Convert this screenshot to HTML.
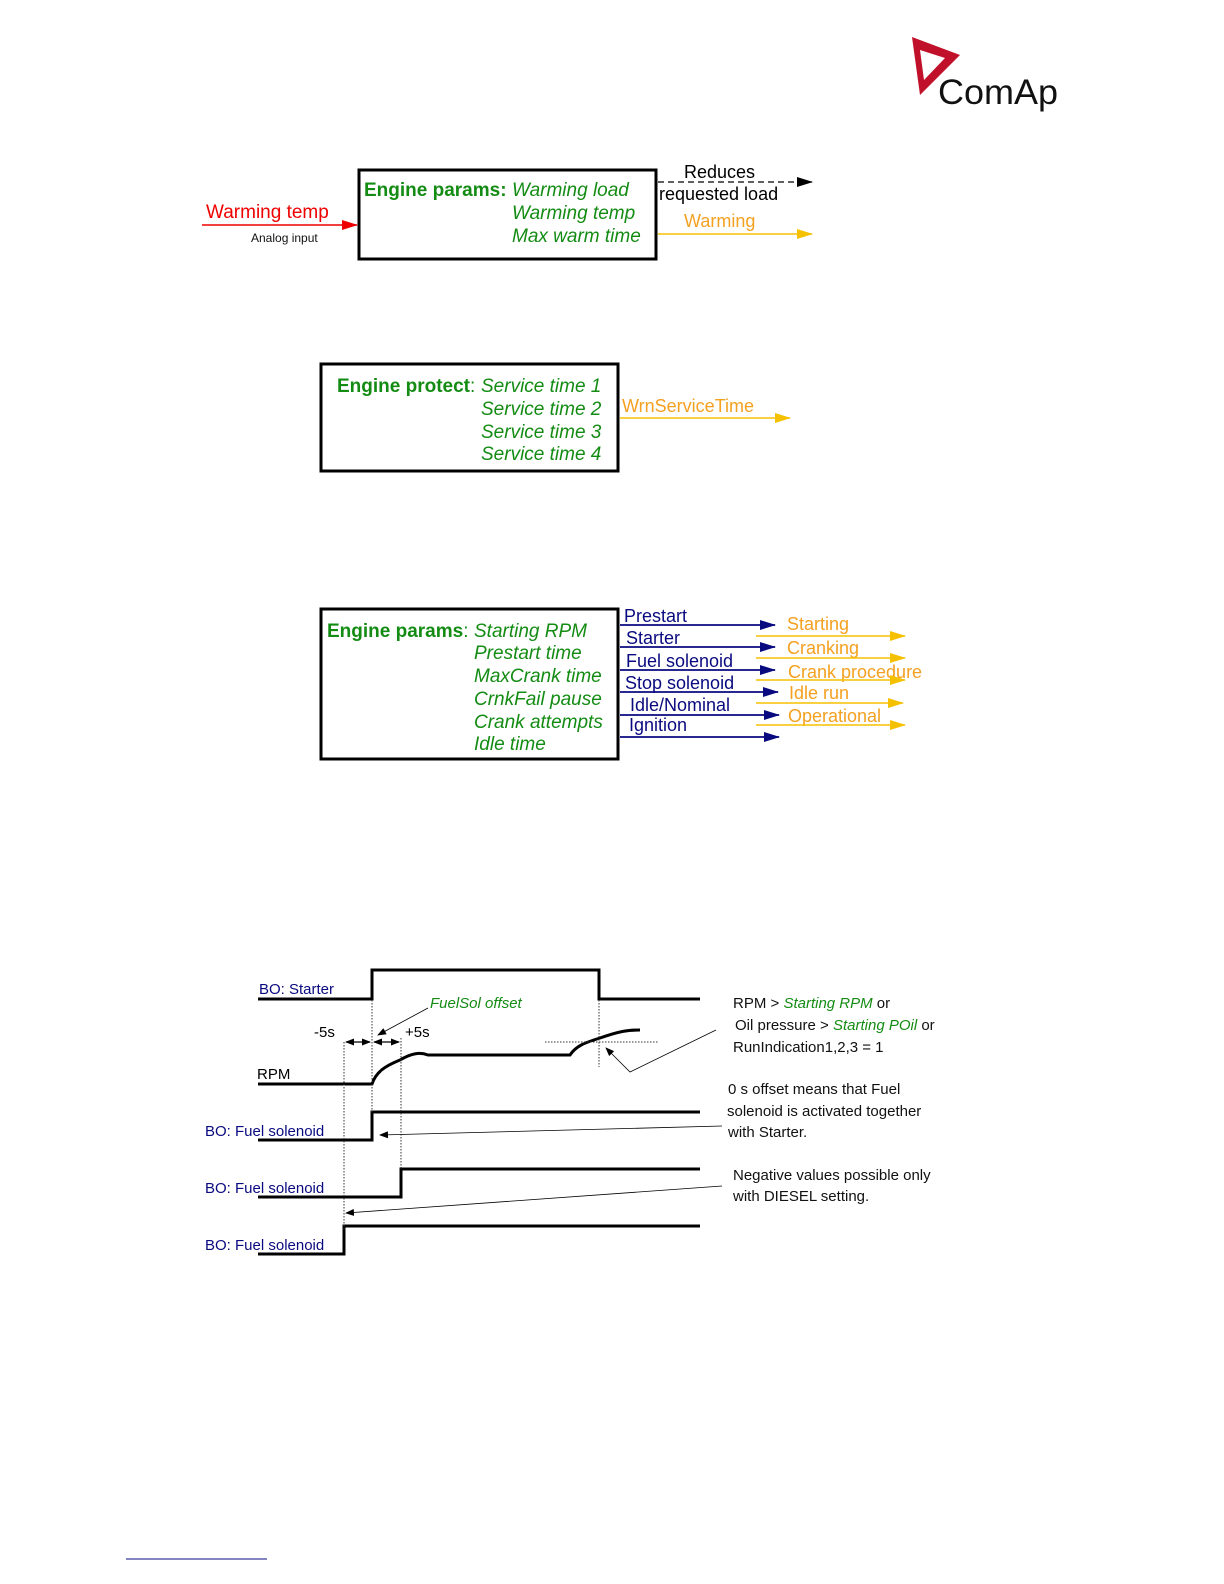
<!DOCTYPE html>
<html><head><meta charset="utf-8"><style>
html,body{margin:0;padding:0;background:#fff;width:1224px;height:1584px;overflow:hidden}
svg{position:absolute;left:0;top:0}
text{font-family:"Liberation Sans",Arial,sans-serif}
.g{fill:#148c14}.n{fill:#0a0a80}.o{fill:#f4a020}
</style></head><body>
<svg width="1224" height="1584" viewBox="0 0 1224 1584" xmlns="http://www.w3.org/2000/svg">
<defs>
<marker id="an" markerWidth="16" markerHeight="10" refX="15" refY="5" orient="auto" markerUnits="userSpaceOnUse"><path d="M0,0L16,5L0,10z" fill="#0a0a80"/></marker>
<marker id="ay" markerWidth="16" markerHeight="10" refX="15" refY="5" orient="auto" markerUnits="userSpaceOnUse"><path d="M0,0L16,5L0,10z" fill="#f5c000"/></marker>
<marker id="ar" markerWidth="16" markerHeight="10" refX="15" refY="5" orient="auto" markerUnits="userSpaceOnUse"><path d="M0,0L16,5L0,10z" fill="#e00"/></marker>
<marker id="ak" markerWidth="16" markerHeight="10" refX="15" refY="5" orient="auto" markerUnits="userSpaceOnUse"><path d="M0,0L16,5L0,10z" fill="#000"/></marker>
<marker id="as" markerWidth="9" markerHeight="7" refX="8" refY="3.5" orient="auto-start-reverse" markerUnits="userSpaceOnUse"><path d="M0,0L9,3.5L0,7z" fill="#000"/></marker>
</defs>
<!-- logo -->
<path d="M912,37 L960,55 L920,95 Z" fill="#c0102a"/>
<path d="M920,50 L945,58 L924,80 Z" fill="#fff"/>
<text x="938" y="104" font-size="35" fill="#111" textLength="120" lengthAdjust="spacingAndGlyphs">ComAp</text>

<!-- block 1 -->
<rect x="359" y="170" width="297" height="89" fill="none" stroke="#000" stroke-width="3"/>
<text x="364" y="196" font-size="19" class="g" font-weight="bold">Engine params:</text>
<text font-size="19" class="g" font-style="italic"><tspan x="512" y="196">Warming load</tspan><tspan x="512" y="219">Warming temp</tspan><tspan x="512" y="242">Max warm time</tspan></text>
<text x="206" y="218" font-size="19" fill="#e00">Warming temp</text>
<line x1="202" y1="225" x2="357" y2="225" stroke="#e00" stroke-width="1.5" marker-end="url(#ar)"/>
<text x="251" y="242" font-size="12" fill="#111">Analog input</text>
<text x="684" y="178" font-size="18" fill="#000">Reduces</text>
<text x="659" y="200" font-size="18" fill="#000">requested load</text>
<line x1="658" y1="182" x2="812" y2="182" stroke="#000" stroke-width="1.2" stroke-dasharray="6,4" marker-end="url(#ak)"/>
<text x="684" y="227" font-size="18" class="o">Warming</text>
<line x1="658" y1="234" x2="812" y2="234" stroke="#f5c000" stroke-width="1.5" marker-end="url(#ay)"/>

<!-- block 2 -->
<rect x="321" y="364" width="297" height="107" fill="none" stroke="#000" stroke-width="3"/>
<text x="337" y="392" font-size="19" class="g" font-weight="bold">Engine protect<tspan font-weight="normal">:</tspan></text>
<text font-size="19" class="g" font-style="italic"><tspan x="481" y="392">Service time 1</tspan><tspan x="481" y="415">Service time 2</tspan><tspan x="481" y="438">Service time 3</tspan><tspan x="481" y="460">Service time 4</tspan></text>
<text x="622" y="412" font-size="18" class="o">WrnServiceTime</text>
<line x1="620" y1="418" x2="790" y2="418" stroke="#f5c000" stroke-width="1.5" marker-end="url(#ay)"/>

<!-- block 3 -->
<rect x="321" y="609" width="297" height="150" fill="none" stroke="#000" stroke-width="3"/>
<text x="327" y="637" font-size="19" class="g" font-weight="bold">Engine params<tspan font-weight="normal">:</tspan></text>
<text font-size="19" class="g" font-style="italic"><tspan x="474" y="637">Starting RPM</tspan><tspan x="474" y="659">Prestart time</tspan><tspan x="474" y="682">MaxCrank time</tspan><tspan x="474" y="705">CrnkFail pause</tspan><tspan x="474" y="728">Crank attempts</tspan><tspan x="474" y="750">Idle time</tspan></text>
<g font-size="18" class="n">
<text x="624" y="622">Prestart</text><text x="626" y="644">Starter</text><text x="626" y="667">Fuel solenoid</text><text x="625" y="689">Stop solenoid</text><text x="630" y="711">Idle/Nominal</text><text x="629" y="731">Ignition</text>
</g>
<g stroke="#0a0a80" stroke-width="1.8">
<line x1="620" y1="625" x2="775" y2="625" marker-end="url(#an)"/>
<line x1="620" y1="647" x2="775" y2="647" marker-end="url(#an)"/>
<line x1="620" y1="670" x2="775" y2="670" marker-end="url(#an)"/>
<line x1="620" y1="692" x2="778" y2="692" marker-end="url(#an)"/>
<line x1="620" y1="715" x2="779" y2="715" marker-end="url(#an)"/>
<line x1="620" y1="737" x2="779" y2="737" marker-end="url(#an)"/>
</g>
<g font-size="18" class="o">
<text x="787" y="630">Starting</text><text x="787" y="654">Cranking</text><text x="788" y="678">Crank procedure</text><text x="789" y="699">Idle run</text><text x="788" y="722">Operational</text>
</g>
<g stroke="#f5c000" stroke-width="1.5">
<line x1="756" y1="636" x2="905" y2="636" marker-end="url(#ay)"/>
<line x1="756" y1="658" x2="905" y2="658" marker-end="url(#ay)"/>
<line x1="756" y1="680" x2="905" y2="680" marker-end="url(#ay)"/>
<line x1="756" y1="703" x2="903" y2="703" marker-end="url(#ay)"/>
<line x1="756" y1="725" x2="905" y2="725" marker-end="url(#ay)"/>
</g>

<!-- timing -->
<g fill="none" stroke="#000" stroke-width="3">
<polyline points="258,999 372,999 372,970 599,970 599,999 700,999"/>
<path d="M258,1084 L372,1084 C376,1072 385,1066 400,1060 C412,1053 420,1052 428,1055 L570,1055 C576,1046 584,1043 600,1038 C620,1031 628,1030 640,1030"/>
<polyline points="258,1140 372,1140 372,1112 700,1112"/>
<polyline points="258,1197 401,1197 401,1169 700,1169"/>
<polyline points="258,1254 344,1254 344,1226 700,1226"/>
</g>
<g stroke="#333" stroke-width="1" stroke-dasharray="1.5,1.5" fill="none">
<line x1="344" y1="1042" x2="344" y2="1230"/>
<line x1="372" y1="1000" x2="372" y2="1112"/>
<line x1="401" y1="1038" x2="401" y2="1170"/>
<line x1="599" y1="1000" x2="599" y2="1067"/>
<line x1="545" y1="1042" x2="658" y2="1042"/>
</g>
<g stroke="#000" stroke-width="1.3">
<line x1="346" y1="1042" x2="370" y2="1042" marker-end="url(#as)" marker-start="url(#as)"/>
<line x1="374" y1="1042" x2="399" y2="1042" marker-end="url(#as)" marker-start="url(#as)"/>
</g>
<g stroke="#000" stroke-width="0.8" fill="none">
<line x1="428" y1="1008" x2="378" y2="1035" marker-end="url(#as)"/>
<polyline points="716,1030 630,1072 606,1048" marker-end="url(#as)"/>
<line x1="722" y1="1126" x2="380" y2="1135" marker-end="url(#as)"/>
<line x1="722" y1="1186" x2="346" y2="1213" marker-end="url(#as)"/>
</g>
<text x="259" y="994" font-size="15" class="n">BO: Starter</text>
<text x="430" y="1008" font-size="15" class="g" font-style="italic">FuelSol offset</text>
<text x="314" y="1037" font-size="15">-5s</text>
<text x="405" y="1037" font-size="15">+5s</text>
<text x="257" y="1079" font-size="15">RPM</text>
<text x="205" y="1136" font-size="15" class="n">BO: Fuel solenoid</text>
<text x="205" y="1193" font-size="15" class="n">BO: Fuel solenoid</text>
<text x="205" y="1250" font-size="15" class="n">BO: Fuel solenoid</text>
<g font-size="15" fill="#111">
<text x="733" y="1008">RPM &gt; <tspan class="g" font-style="italic">Starting RPM</tspan> or</text>
<text x="735" y="1030">Oil pressure &gt; <tspan class="g" font-style="italic">Starting POil</tspan> or</text>
<text x="733" y="1052">RunIndication1,2,3 = 1</text>
<text x="728" y="1094">0 s offset means that Fuel</text>
<text x="727" y="1116">solenoid  is activated together</text>
<text x="728" y="1137">with Starter.</text>
<text x="733" y="1180">Negative values possible only</text>
<text x="733" y="1201">with DIESEL setting.</text>
</g>
<line x1="126" y1="1559" x2="267" y2="1559" stroke="#0a0a80" stroke-width="1"/>
</svg>
</body></html>
